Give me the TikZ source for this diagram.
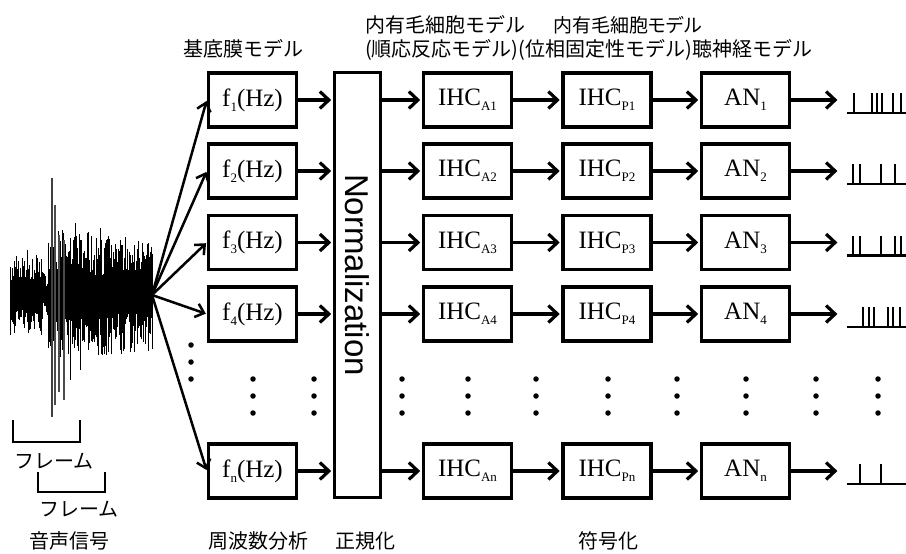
\documentclass[tikz,border=0pt]{standalone}
\usepackage{fontspec}
\setmainfont{Liberation Serif}
\setsansfont{Liberation Sans}
\newfontfamily\jp{Noto Sans CJK JP}
\newfontfamily\jpp[RawFeature=+palt]{Noto Sans CJK JP}
\usetikzlibrary{arrows.meta}
\newcommand{\mysub}[1]{\raisebox{-5pt}{\fontsize{13}{13}\selectfont #1}}
\begin{document}
\begin{tikzpicture}[x=1pt,y=-1pt,
  box/.style={draw,line width=3.4pt,minimum width=88pt,minimum height=54pt,inner sep=0pt,
    font=\fontsize{25}{25}\selectfont},
  arr/.style={line width=3.2pt,shorten >=1.6pt,-{Straight Barb[length=9pt,width=17pt,line width=3.2pt]}},
  fan/.style={line width=2.5pt,shorten >=1pt,-{Straight Barb[length=8pt,width=14pt,line width=2.5pt]}},
  spike/.style={line width=2.6pt},
  dot/.style={fill,circle,inner sep=0pt,minimum size=5.5pt},
  jlab/.style={font=\jp\fontsize{20}{20}\selectfont,inner sep=0pt},
  wave/.style={line width=0.8pt},
  brk/.style={line width=2.2pt}
]
\useasboundingbox (0,0) rectangle (906,554);

% waveform
\pgfmathsetseed{11}
\foreach \i in {0,...,284}{
  \pgfmathsetmacro{\xx}{10+\i*0.5}
  \pgfmathsetmacro{\env}{ifthenelse(\xx<42,42,ifthenelse(\xx<48,24,66-10*(\xx-48)/104))}
  \pgfmathsetmacro{\wa}{\env*(0.32+0.68*rnd^1.6)}
  \pgfmathsetmacro{\wb}{\env*(0.32+0.68*rnd^1.6)}
  \draw[wave] (\xx,295-\wa) -- (\xx,295+\wb);
}
\draw[line width=1.6pt,black!75] (52,178) -- (52,417);
\draw[line width=1.3pt,black!70] (55,205) -- (55,405);
\draw[line width=1.2pt,black!70] (59,235) -- (59,392);
\draw[line width=1.1pt,black!70] (64,240) -- (64,400);
\draw[line width=1pt] (62,230) -- (62,350) (75,223) -- (75,340) (100,228) -- (100,335)
  (88,232) -- (88,350) (108,236) -- (108,352) (27,250) -- (27,320) (70,238) -- (70,380)
  (120,240) -- (120,350) (134,245) -- (134,345) (80,240) -- (80,370);

\coordinate (src) at (152,295);

% frame brackets
\draw[brk] (13,420) -- (13,442) -- (80,442) -- (80,420);
\draw[brk] (38,472) -- (38,492) -- (105,492) -- (105,472);
\node[jlab] (fr1) at (54,461) {フレーム};
\node[jlab] (fr2) at (79,509) {フレーム};

% normalization
\node[draw,line width=3.4pt,minimum width=46pt,minimum height=425pt,inner sep=0pt] (norm) at (357.5,285) {};
\node[rotate=-90,font=\sffamily\fontsize{33}{33}\selectfont,inner sep=0pt] (normt) at (357.5,275) {Normalization};

% rows
\foreach \r/\y in {1/100,2/171,3/242.5,4/314,n/471}{
  \node[box] (f\r) at (252.5,\y) {f\mysub{\r}(Hz)};
  \node[box] (a\r) at (467.5,\y) {IHC\mysub{A\r}};
  \node[box] (p\r) at (607,\y) {IHC\mysub{P\r}};
  \node[box] (n\r) at (745.5,\y) {AN\mysub{\r}};
  \coordinate (o\r) at (839,\y);
  \draw[fan] (src) -- (f\r.west);
  \draw[arr] (f\r.east) -- (norm.west |- f\r.east);
  \draw[arr] (norm.east |- a\r.west) -- (a\r.west);
  \draw[arr] (a\r.east) -- (p\r.west);
  \draw[arr] (p\r.east) -- (n\r.west);
  \draw[arr] (n\r.east) -- (o\r);
}

% spike trains
\foreach \y/\xs in {100/{854,872,877,882,893,901},171/{853,860,881,895},242.5/{853,860,881,895,901},314/{863,869,874,888,893,900},471/{860,881}}{
  \draw[spike] (847,\y+13) -- (906,\y+13);
  \foreach \s in \xs { \draw[spike] (\s,\y+13) -- (\s,\y-7); }
}

% dots
\foreach \x in {253,314,402,468,536,608,677,746,816,878}{
  \foreach \yy in {379,396,413} { \node[dot] at (\x,\yy) {}; }
}
\foreach \yy in {345,362,379} { \node[dot] at (191,\yy) {}; }

% top labels
\node[jlab,anchor=west] (t0) at (183,49) {基底膜モデル};
\node[jlab,anchor=west] (t1) at (365,25) {内有毛細胞モデル};
\node[jlab,anchor=west,font=\jpp\fontsize{19}{19}\selectfont] (t2) at (553,25) {内有毛細胞モデル};
\node[jlab,anchor=west] (t3) at (365,50) {(順応反応モデル)(位相固定性モデル)聴神経モデル};

% bottom labels
\node[jlab] (b1) at (70,541) {音声信号};
\node[jlab] (b2) at (258,541) {周波数分析};
\node[jlab] (b3) at (365,541) {正規化};
\node[jlab] (b4) at (608,541) {符号化};
\end{tikzpicture}
\end{document}
